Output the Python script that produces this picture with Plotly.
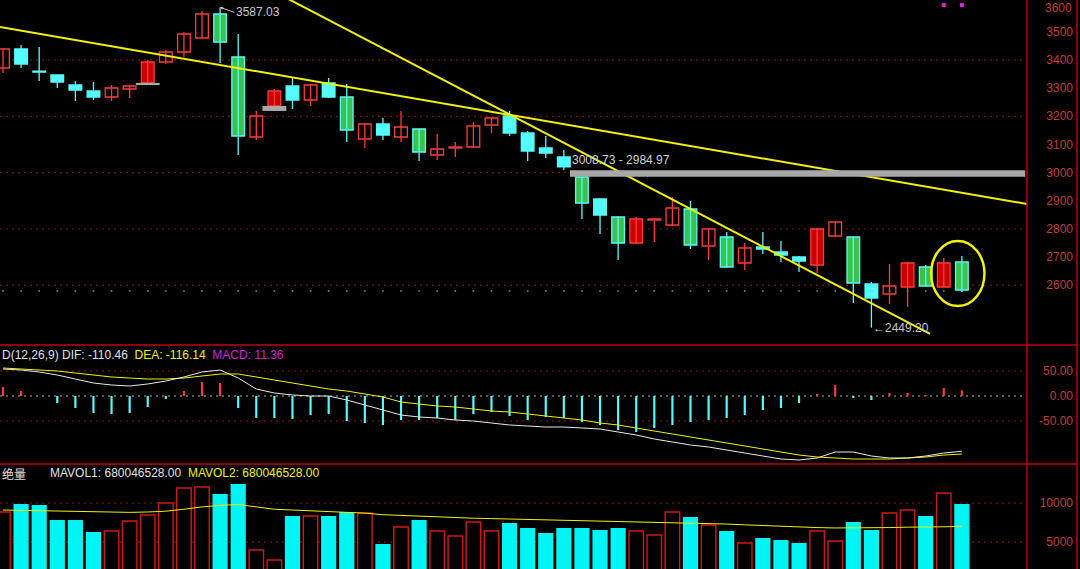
import plotly.graph_objects as go

# ---------------- data ----------------
opens  = [3371.6,3439.1,3358.0,3346.7,3311.2,3289.9,3268.6,3297.0,3318.3,3392.9,
          3428.4,3478.1,3563.4,3410.6,3126.5,3236.6,3307.6,3257.9,3318.3,3268.6,
          3119.4,3172.7,3126.5,3154.9,3062.5,3087.4,3090.9,3169.1,3201.1,3140.7,
          3087.4,3055.4,2984.4,2906.3,2842.3,2750.0,2831.7,2813.9,2870.7,2739.3,
          2771.3,2678.9,2735.8,2718.0,2700.2,2671.8,2774.8,2771.3,2604.3,2568.8,
          2593.7,2664.7,2593.7,2682.5]
highs  = [3441.0,3453.3,3446.2,3347.5,3325.4,3321.8,3311.2,3311.2,3400.0,3435.5,
          3499.4,3574.0,3587.03,3492.3,3218.9,3297.0,3336.0,3314.7,3336.0,3314.7,
          3176.2,3194.0,3218.9,3156.0,3137.1,3108.7,3179.8,3194.5,3218.9,3147.8,
          3130.0,3080.3,2984.97,2909.8,2845.8,2842.3,2838.7,2913.4,2899.1,2803.2,
          2789.0,2750.0,2789.0,2757.1,2703.8,2803.2,2828.1,2772.0,2611.4,2675.4,
          2682.5,2671.8,2696.7,2703.8]
lows   = [3353.8,3371.6,3325.4,3300.5,3254.4,3257.9,3254.4,3265.0,3318.3,3385.8,
          3410.6,3478.1,3389.3,3062.5,3115.8,3236.6,3226.0,3236.6,3266.0,3108.7,
          3087.4,3115.8,3108.7,3041.2,3044.8,3055.4,3087.4,3140.7,3130.0,3041.2,
          3051.9,3008.73,2835.2,2782.0,2689.6,2748.0,2753.5,2810.3,2728.6,2689.6,
          2662.0,2654.1,2710.9,2682.5,2647.0,2643.4,2771.3,2536.8,2449.2,2533.3,
          2522.6,2593.7,2593.7,2575.9]
closes = [3439.1,3385.8,3357.0,3321.8,3293.4,3268.6,3300.5,3307.6,3392.9,3428.4,
          3492.3,3563.4,3463.9,3130.0,3201.1,3289.9,3257.9,3311.2,3268.6,3151.3,
          3172.7,3133.6,3162.0,3073.2,3083.8,3090.9,3165.6,3194.0,3140.7,3076.7,
          3069.6,3020.0,2892.0,2849.4,2750.0,2835.2,2833.0,2874.3,2742.9,2799.7,
          2664.7,2732.2,2728.6,2707.3,2686.0,2799.7,2824.5,2607.9,2554.6,2597.2,
          2678.9,2597.2,2678.9,2583.0]
# candle drawing style: rh red hollow, rf red filled, cf cyan filled, cg cyan edge / green body
styles = ['rh','cf','cf','cf','cf','cf','rh','rh','rf','rh',
          'rh','rh','cg','cg','rh','rf','cf','rh','cf','cg',
          'rh','cf','rh','cg','rh','rh','rh','rh','cf','cf',
          'cf','cf','cg','cf','cg','rf','rh','rh','cg','rh',
          'cg','rh','cf','cf','cf','rf','rh','cg','cf','rh',
          'rf','cg','rf','cg']

# MACD(12,26,9)
dif  = [54,52,48,42,34,26,22,20,24,30,38,48,52,36,14,6,2,0,0,-8,
        -18,-28,-38,-42,-44,-48,-50,-54,-58,-60,-62,-62,-64,-66,-72,-78,-86,-92,-98,-102,
        -108,-114,-120,-126,-128,-124,-112,-112,-120,-124,-124,-120,-114,-110.46]
dea  = [56,54,52,50,46,42,38,36,34,34,36,40,44,44,38,32,26,20,14,10,
        4,-2,-12,-16,-20,-22,-26,-30,-32,-36,-40,-44,-48,-54,-58,-64,-70,-76,-82,-88,
        -94,-100,-106,-112,-118,-122,-124,-126,-126,-126,-124,-122,-118,-116.14]
macd = [18,10,0,-14,-24,-34,-36,-34,-22,-6,10,28,26,-24,-44,-44,-46,-38,-36,-50,
        -54,-58,-48,-48,-44,-48,-36,-32,-40,-48,-42,-44,-52,-58,-68,-72,-64,-58,-52,-48,
        -44,-38,-28,-24,-14,4,22,-4,-8,6,6,2,16,11.36]

# volume
volume = [8846,9872,9744,7820,7820,6282,6410,7692,8461,10000,
          11923,12051,11154,12435,3974,2692,8333,8333,8333,8846,
          8718,4743,6923,7820,6410,5769,7564,6410,7436,6795,
          6154,6795,6795,6538,6795,6410,5897,8846,8205,7179,
          6410,4872,5513,5256,4872,6410,5128,7564,6538,8718,
          9103,8333,11282,9872]
mavol = [9100,9050,9000,8950,8900,8850,8800,8800,8850,8950,
         9200,9500,9700,9800,9500,9200,9100,9000,8900,8800,
         8700,8500,8400,8300,8200,8100,8050,8000,7950,7900,
         7800,7750,7700,7650,7600,7550,7500,7450,7400,7350,
         7300,7200,7100,7000,6900,6850,6800,6800,6800,6850,
         6900,6900,6950,7000]

# trend lines: (index, price) end points
trend_a_x = [-0.17, 56.6]
trend_a_y = [3517.0, 2888.5]
trend_b_x = [15.0, 51.24]
trend_b_y = [3642.6, 2426.8]

# price gaps: (candle index, lower edge, upper edge, extend to right edge?)
gaps = [(8, 3311.2, 3318.3, False), (15, 3218.9, 3236.6, False), (32, 2984.97, 3008.73, True)]

# highlighted candles (ellipse) and signal markers
ring_idx = [52, 53]
signal_idx = [52, 53]

main_ticks = [2600, 2700, 2800, 2900, 3000, 3100, 3200, 3300, 3400, 3500, 3600]
main_grid = [2600, 2800, 3000, 3200, 3400]
macd_ticks = [50, 0, -50]
vol_ticks = [5000, 10000]
dot_level = 2579

# ---------------- figure ----------------
W, H = 1080, 569
n = len(opens)
idx = list(range(n))
XR = [-0.166, 56.6]
PX = 1027 / W
MAIN_R = [2387.6, 3613.1]
MACD_R = [-136, 102]
VOL_R = [1538, 15000]
dom_main = [1 - 345 / H, 1]
dom_macd = [1 - 464 / H, 1 - 345 / H]
dom_vol = [0, 1 - 464 / H]

RED = '#ff3a3a'
RED_FILL = '#c80000'
CYAN = '#54fcfc'
GREEN = '#3cc24a'
YEL = '#f2f200'
AXC = '#c43c3c'
GRID = '#9a1414'
FRAME = '#c00000'
FONT = 'Liberation Sans, Arial, sans-serif'

fig = go.Figure()

# dotted row under candles
fig.add_trace(go.Scatter(x=idx, y=[dot_level] * n, mode='markers',
                         marker=dict(size=2, color='#707070'), xaxis='x', yaxis='y',
                         hoverinfo='skip', showlegend=False))

# wicks
for col, group in ((RED, ('rh', 'rf')), (CYAN, ('cf', 'cg'))):
    wx, wy = [], []
    for i in idx:
        if styles[i] in group:
            wx += [i, i, None]
            wy += [lows[i], highs[i], None]
    fig.add_trace(go.Scatter(x=wx, y=wy, mode='lines', line=dict(color=col, width=1.3),
                             xaxis='x', yaxis='y', hoverinfo='skip', showlegend=False))

# bodies
body_style = {'rh': ('#000000', RED), 'rf': (RED_FILL, RED), 'cf': (CYAN, CYAN), 'cg': (GREEN, CYAN)}
for st, (fillc, linec) in body_style.items():
    bx, by, bb = [], [], []
    for i in idx:
        if styles[i] == st:
            lo = min(opens[i], closes[i])
            bx.append(i)
            by.append(max(abs(closes[i] - opens[i]), 3.5))
            bb.append(lo)
    fig.add_trace(go.Bar(x=bx, y=by, base=bb, width=0.7,
                         marker=dict(color=fillc, line=dict(color=linec, width=1.3)),
                         xaxis='x', yaxis='y', hoverinfo='skip', showlegend=False))

# trend lines
fig.add_trace(go.Scatter(x=trend_a_x, y=trend_a_y, mode='lines', line=dict(color=YEL, width=2),
                         xaxis='x', yaxis='y', hoverinfo='skip', showlegend=False))
fig.add_trace(go.Scatter(x=trend_b_x, y=trend_b_y, mode='lines', line=dict(color=YEL, width=2),
                         xaxis='x', yaxis='y', hoverinfo='skip', showlegend=False))

# signal markers
fig.add_trace(go.Scatter(x=signal_idx, y=[MAIN_R[1] - 18] * len(signal_idx), mode='markers',
                         marker=dict(symbol='square', size=4, color='#e020e0'),
                         xaxis='x', yaxis='y', hoverinfo='skip', showlegend=False))

# MACD bars
pos_x = [i for i in idx if macd[i] >= 0]
neg_x = [i for i in idx if macd[i] < 0]
fig.add_trace(go.Bar(x=pos_x, y=[macd[i] for i in pos_x], width=0.12, marker=dict(color=RED, line=dict(width=0)),
                     xaxis='x2', yaxis='y2', hoverinfo='skip', showlegend=False))
fig.add_trace(go.Bar(x=neg_x, y=[macd[i] for i in neg_x], width=0.12, marker=dict(color=CYAN, line=dict(width=0)),
                     xaxis='x2', yaxis='y2', hoverinfo='skip', showlegend=False))
fig.add_trace(go.Scatter(x=idx, y=dea, mode='lines', line=dict(color=YEL, width=1),
                         xaxis='x2', yaxis='y2', hoverinfo='skip', showlegend=False))
fig.add_trace(go.Scatter(x=idx, y=dif, mode='lines', line=dict(color='#e8e8e8', width=1),
                         xaxis='x2', yaxis='y2', hoverinfo='skip', showlegend=False))

# volume bars
up = [i for i in idx if styles[i] in ('rh', 'rf')]
dn = [i for i in idx if styles[i] in ('cf', 'cg')]
fig.add_trace(go.Bar(x=dn, y=[volume[i] for i in dn], width=0.84,
                     marker=dict(color='#00f4f4', line=dict(width=0)),
                     xaxis='x3', yaxis='y3', hoverinfo='skip', showlegend=False))
fig.add_trace(go.Bar(x=up, y=[volume[i] for i in up], width=0.8,
                     marker=dict(color='#000000', line=dict(color='#d01818', width=1.4)),
                     xaxis='x3', yaxis='y3', hoverinfo='skip', showlegend=False))
fig.add_trace(go.Scatter(x=idx, y=mavol, mode='lines', line=dict(color=YEL, width=1),
                         xaxis='x3', yaxis='y3', hoverinfo='skip', showlegend=False))

# tick dashes just right of the frame line
tick_x = XR[1] + 0.35
for ax, vals in (('y', main_ticks), ('y2', macd_ticks), ('y3', vol_ticks)):
    fig.add_trace(go.Scatter(x=[tick_x] * len(vals), y=vals, mode='markers', cliponaxis=False,
                             marker=dict(symbol='line-ew', size=6, line=dict(color=AXC, width=1)),
                             xaxis='x' if ax == 'y' else ('x2' if ax == 'y2' else 'x3'), yaxis=ax,
                             hoverinfo='skip', showlegend=False))

shapes = []
for v in main_grid:
    shapes.append(dict(type='line', xref='x domain', x0=0, x1=1, yref='y', y0=v, y1=v,
                       line=dict(color=GRID, width=1, dash='2px,4px'), layer='below'))
for v in macd_ticks:
    shapes.append(dict(type='line', xref='x2 domain', x0=0, x1=1, yref='y2', y0=v, y1=v,
                       line=dict(color=('#b0b0b0' if v == 0 else GRID), width=1, dash='2px,4px'), layer='below'))
for v in vol_ticks:
    shapes.append(dict(type='line', xref='x3 domain', x0=0, x1=1, yref='y3', y0=v, y1=v,
                       line=dict(color=GRID, width=1, dash='2px,4px'), layer='below'))

# gap bands
for gi, lo, hi, ext in gaps:
    x0 = gi - 0.66
    x1 = XR[1] - 0.1 if ext else gi + 0.66
    h_units = max(hi - lo, 8)
    mid = (hi + lo) / 2
    shapes.append(dict(type='rect', xref='x', yref='y', x0=x0, x1=x1,
                       y0=mid - h_units / 2, y1=mid + h_units / 2,
                       fillcolor='#a8a8a8', line=dict(width=0), layer='above'))

# ellipse round last candles
ring_lo = min(lows[i] for i in ring_idx)
ring_hi = max(highs[i] for i in ring_idx)
shapes.append(dict(type='circle', xref='x', yref='y', x0=ring_idx[0] - 0.7, x1=ring_idx[-1] + 1.25,
                   y0=ring_lo - 50, y1=ring_hi + 53, line=dict(color=YEL, width=2.5)))

# frame lines
shapes.append(dict(type='line', xref='paper', yref='paper', x0=PX, x1=PX, y0=0, y1=1,
                   line=dict(color=FRAME, width=1.5)))
shapes.append(dict(type='line', xref='paper', yref='paper', x0=1077 / W, x1=1077 / W, y0=0, y1=1,
                   line=dict(color=FRAME, width=1.5)))
for yy in (dom_main[0], dom_macd[0]):
    shapes.append(dict(type='line', xref='paper', yref='paper', x0=0, x1=1077 / W, y0=yy, y1=yy,
                       line=dict(color=FRAME, width=1.5)))

annotations = []
hi_i = max(idx, key=lambda i: highs[i])
lo_i = min(idx, key=lambda i: lows[i])
annotations.append(dict(x=hi_i, y=highs[hi_i], xref='x', yref='y', text=f'{highs[hi_i]:.2f}',
                        showarrow=True, arrowhead=2, arrowsize=0.6, arrowwidth=1, arrowcolor='#c8c8c8',
                        ax=14, ay=5, xanchor='left', yanchor='middle',
                        font=dict(family=FONT, size=12, color='#c8c8c8')))
annotations.append(dict(x=lo_i, y=lows[lo_i], xref='x', yref='y', text=f'←{lows[lo_i]:.2f}',
                        showarrow=False, xanchor='left', yanchor='middle', xshift=0,
                        font=dict(family=FONT, size=12, color='#c8c8c8')))
big = gaps[-1]
annotations.append(dict(x=big[0] - 0.66, y=big[2], xref='x', yref='y',
                        text=f'{big[2]:.2f} - {big[1]:.2f}', showarrow=False,
                        xanchor='left', yanchor='bottom', yshift=1,
                        font=dict(family=FONT, size=12, color='#d0d0d0')))
annotations.append(dict(x=0, y=1 - 355 / H, xref='paper', yref='paper', showarrow=False,
                        xanchor='left', yanchor='middle',
                        text=(f'D(12,26,9) DIF: {dif[-1]:.2f}  '
                              f'<span style="color:{YEL}">DEA: {dea[-1]:.2f}</span>  '
                              f'<span style="color:#d020d0">MACD: {macd[-1]:.2f}</span>'),
                        font=dict(family=FONT, size=12, color='#e0e0e0')))
annotations.append(dict(x=0, y=1 - 473 / H, xref='paper', yref='paper', showarrow=False,
                        xanchor='left', yanchor='middle', text='绝量',
                        font=dict(family='Noto Sans CJK SC', size=12, color='#e0e0e0')))
annotations.append(dict(x=48 / W, y=1 - 473 / H, xref='paper', yref='paper', showarrow=False,
                        xanchor='left', yanchor='middle',
                        text=(f'MAVOL1: 680046528.00  '
                              f'<span style="color:{YEL}">MAVOL2: 680046528.00</span>'),
                        font=dict(family=FONT, size=12, color='#e0e0e0')))
# top tick label kept inside the window (the axis would cut it at the edge)
top_tick = max(main_ticks)
annotations.append(dict(x=1074 / W, y=1, xref='paper', yref='paper', showarrow=False,
                        xanchor='right', yanchor='top', yshift=1, text=str(top_tick),
                        font=dict(family=FONT, size=12, color=AXC)))

xa = dict(range=XR, domain=[0, PX], visible=False, fixedrange=True)
lab_pos = 1076 / W
def ya(dom, rng, tv, tt):
    return dict(domain=dom, range=rng, anchor='free', position=lab_pos, side='right',
                ticklabelposition='inside', ticklabeloverflow='allow',
                tickvals=tv, ticktext=tt, ticks='',
                showgrid=False, zeroline=False, showline=False, fixedrange=True,
                tickfont=dict(family=FONT, size=12, color=AXC))

fig.update_layout(
    width=W, height=H, margin=dict(l=0, r=0, t=0, b=0, pad=0, autoexpand=False),
    paper_bgcolor='#000000', plot_bgcolor='#000000',
    barmode='overlay', showlegend=False,
    xaxis=dict(xa, anchor='y'), xaxis2=dict(xa, anchor='y2'), xaxis3=dict(xa, anchor='y3'),
    yaxis=ya(dom_main, MAIN_R, main_ticks, ['' if v == top_tick else str(v) for v in main_ticks]),
    yaxis2=ya(dom_macd, MACD_R, macd_ticks, [f'{v:.2f}' for v in macd_ticks]),
    yaxis3=ya(dom_vol, VOL_R, vol_ticks, [str(v) for v in vol_ticks]),
    shapes=shapes, annotations=annotations,
)

fig.write_html('out.html', config={'displayModeBar': False},
               post_script="document.body.style.margin='0';document.body.style.overflow='hidden';")
